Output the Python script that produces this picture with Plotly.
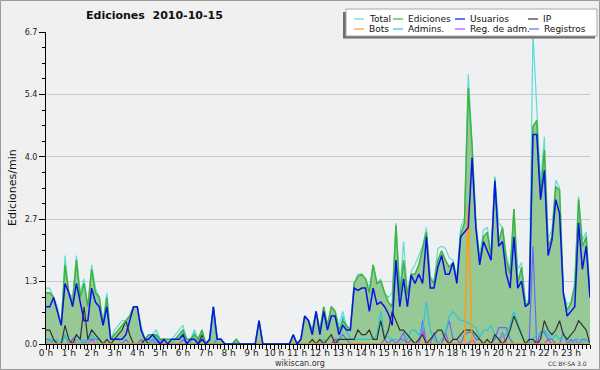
import plotly.graph_objects as go

# 10-minute bins, values in edits per minute (rows = hours 0..23, 6 bins each)
minutes = [i * 10 for i in range(144)]

total = [
    1.2, 1.2, 1.0, 0.8, 0.4, 1.9,
    1.1, 1.0, 1.9, 1.1, 1.4, 0.8,
    1.7, 1.2, 1.0, 0.5, 1.1, 0.1,
    0.3, 0.4, 0.5, 0.5, 0.6, 0.8,
    0.8, 0.4, 0.1, 0.2, 0.2, 0.3,
    0.1, 0.1, 0.1, 0.1, 0.2, 0.3,
    0.4, 0.1, 0.1, 0.3, 0.1, 0.3,
    0.0, 0.1, 0.8, 0.1, 0.1, 0.0,
    0.0, 0.0, 0.1, 0.0, 0.0, 0.0,
    0.0, 0.0, 0.5, 0.0, 0.0, 0.0,
    0.0, 0.0, 0.0, 0.0, 0.0, 0.2,
    0.0, 0.1, 0.6, 0.5, 0.3, 0.7,
    0.3, 0.8, 0.4, 0.8, 0.7, 0.4,
    0.7, 0.4, 0.3, 1.3, 1.5, 1.5,
    1.4, 1.2, 1.7, 1.3, 1.4, 1.1,
    1.0, 1.1, 2.6, 1.1, 2.2, 1.1,
    1.55, 1.7, 1.9, 2.1, 2.5, 1.45,
    1.35, 2.05, 2.1, 2.05, 1.85, 1.8,
    1.45, 2.5, 2.7, 5.8, 4.3, 2.6,
    1.9, 2.45, 2.5, 1.95, 3.6, 2.6,
    2.5, 1.9, 1.6, 2.9, 1.6, 1.75,
    0.95, 0.9, 6.7, 4.9, 3.45, 4.45,
    2.25, 2.45, 3.52, 3.35, 1.1, 0.85,
    0.9, 1.35, 3.16, 2.23, 2.41, 1.05,
]

ediciones = [
    1.1, 1.1, 1.0, 0.7, 0.4, 1.7,
    1.1, 0.9, 1.8, 1.0, 1.3, 0.8,
    1.6, 1.1, 1.0, 0.4, 1.0, 0.1,
    0.2, 0.3, 0.4, 0.5, 0.6, 0.8,
    0.8, 0.3, 0.1, 0.2, 0.2, 0.2,
    0.1, 0.1, 0.1, 0.1, 0.1, 0.2,
    0.3, 0.1, 0.1, 0.2, 0.1, 0.3,
    0.0, 0.1, 0.8, 0.1, 0.1, 0.0,
    0.0, 0.0, 0.1, 0.0, 0.0, 0.0,
    0.0, 0.0, 0.5, 0.0, 0.0, 0.0,
    0.0, 0.0, 0.0, 0.0, 0.0, 0.2,
    0.0, 0.1, 0.6, 0.5, 0.3, 0.7,
    0.3, 0.8, 0.4, 0.8, 0.7, 0.3,
    0.5, 0.4, 0.3, 1.3, 1.45, 1.5,
    1.4, 1.1, 1.7, 1.3, 1.35, 1.1,
    0.9, 0.8, 2.55, 1.05, 1.8, 1.05,
    1.5, 1.5, 1.7, 2.05, 2.4, 1.4,
    1.3, 1.8, 2.0, 1.8, 1.65, 1.75,
    1.35, 2.35, 2.6, 5.5, 4.25, 2.55,
    1.8, 2.3, 2.4, 1.85, 3.55, 2.2,
    2.5, 1.8, 1.5, 2.9, 1.3, 1.65,
    0.85, 0.9, 4.67, 4.8, 3.2, 4.17,
    2.1, 2.3, 3.38, 3.3, 1.09, 0.73,
    0.87, 1.23, 3.1, 2.1, 2.3, 1.0,
]

usuarios = [
    0.8, 0.8, 1.0, 0.7, 0.4, 1.3,
    1.1, 0.8, 1.3, 0.9, 0.5, 0.5,
    1.2, 0.9, 0.8, 0.4, 0.8, 0.1,
    0.1, 0.1, 0.1, 0.2, 0.5, 0.8,
    0.8, 0.3, 0.1, 0.1, 0.2, 0.1,
    0.0, 0.1, 0.0, 0.1, 0.1, 0.1,
    0.2, 0.0, 0.1, 0.1, 0.0, 0.1,
    0.0, 0.1, 0.8, 0.1, 0.1, 0.0,
    0.0, 0.0, 0.0, 0.0, 0.0, 0.0,
    0.0, 0.0, 0.5, 0.0, 0.0, 0.0,
    0.0, 0.0, 0.0, 0.0, 0.0, 0.2,
    0.0, 0.1, 0.6, 0.5, 0.2, 0.7,
    0.2, 0.7, 0.3, 0.6, 0.6, 0.2,
    0.4, 0.3, 0.3, 1.2, 1.15, 1.2,
    1.2, 0.7, 1.2, 0.85, 0.9, 0.8,
    0.65, 0.4, 1.8, 0.8, 1.4, 0.8,
    1.48, 1.3, 1.5, 1.3, 2.3, 1.2,
    1.2, 1.65, 1.9, 1.5, 1.5, 1.75,
    1.3, 2.3, 2.4, 2.5, 4.0, 2.5,
    1.7, 2.2, 2.0, 1.8, 3.5, 2.1,
    2.2, 1.5, 1.2, 2.3, 1.2, 1.35,
    0.8, 0.87, 4.5, 4.5, 3.1, 3.73,
    1.9, 2.23, 3.1, 2.8, 1.09, 0.6,
    0.7, 0.8, 2.6, 1.6, 2.1, 1.0,
]

ip = [
    0.3, 0.3, 0.1, 0.0, 0.0, 0.4,
    0.1, 0.0, 0.2, 0.1, 0.8, 0.1,
    0.3, 0.2, 0.1, 0.0, 0.1, 0.0,
    0.1, 0.2, 0.3, 0.5, 0.2, 0.0,
    0.0, 0.0, 0.1, 0.0, 0.0, 0.0,
    0.0, 0.0, 0.0, 0.0, 0.0, 0.0,
    0.0, 0.0, 0.0, 0.0, 0.0, 0.2,
    0.0, 0.0, 0.0, 0.0, 0.0, 0.0,
    0.0, 0.0, 0.1, 0.0, 0.0, 0.0,
    0.0, 0.0, 0.0, 0.0, 0.0, 0.0,
    0.0, 0.0, 0.0, 0.0, 0.0, 0.0,
    0.0, 0.0, 0.0, 0.0, 0.1, 0.0,
    0.1, 0.0, 0.1, 0.2, 0.0, 0.1,
    0.1, 0.1, 0.1, 0.1, 0.3, 0.2,
    0.2, 0.3, 0.1, 0.1, 0.5, 0.1,
    0.3, 0.7, 0.5, 0.3, 0.3, 0.2,
    0.1, 0.0, 0.1, 0.2, 0.0, 0.1,
    0.2, 0.3, 0.3, 0.1, 0.0, 0.1,
    0.1, 0.2, 0.3, 0.3, 0.3, 0.2,
    0.1, 0.0, 0.1, 0.0, 0.2, 0.1,
    0.0, 0.1, 0.3, 0.6, 0.4, 0.2,
    0.0, 0.1, 0.1, 0.0, 0.1, 0.5,
    0.3, 0.2, 0.3, 0.5, 0.2, 0.1,
    0.2, 0.3, 0.5, 0.4, 0.3, 0.0,
]

bots = [0.0] * 111 + [3.0] + [0.0] * 32

admins = [
    0.0, 0.1, 0.0, 0.1, 0.0, 0.2,
    0.0, 0.0, 0.1, 0.0, 0.1, 0.0,
    0.2, 0.1, 0.0, 0.0, 0.0, 0.0,
    0.1, 0.1, 0.0, 0.0, 0.0, 0.0,
    0.0, 0.0, 0.0, 0.1, 0.0, 0.2,
    0.0, 0.0, 0.0, 0.0, 0.1, 0.2,
    0.3, 0.0, 0.0, 0.3, 0.0, 0.1,
    0.0, 0.0, 0.7, 0.0, 0.0, 0.0,
    0.0, 0.0, 0.0, 0.0, 0.0, 0.0,
    0.0, 0.0, 0.0, 0.0, 0.0, 0.0,
    0.0, 0.0, 0.0, 0.0, 0.0, 0.0,
    0.0, 0.0, 0.0, 0.0, 0.0, 0.0,
    0.0, 0.1, 0.0, 0.0, 0.0, 0.0,
    0.6, 0.3, 0.1, 0.1, 0.1, 0.1,
    0.1, 0.1, 0.1, 0.2, 0.7, 0.15,
    0.15, 0.1, 0.1, 0.0, 0.1, 0.1,
    0.3, 0.3, 0.2, 0.3, 0.9, 0.3,
    0.1, 0.0, 0.1, 0.2, 0.6, 0.7,
    0.6, 0.5, 0.5, 0.45, 0.4, 0.35,
    0.15, 0.3, 0.3, 0.4, 0.2, 0.1,
    0.2, 0.2, 0.4, 0.7, 0.45, 0.2,
    0.0, 0.0, 0.1, 0.2, 0.2, 0.3,
    0.2, 0.1, 0.2, 0.1, 0.2, 0.1,
    0.0, 0.1, 0.1, 0.0, 0.1, 0.0,
]

reg_adm = [
    0.0, 0.0, 0.1, 0.0, 0.0, 0.0,
    0.0, 0.1, 0.0, 0.0, 0.0, 0.0,
    0.1, 0.0, 0.0, 0.0, 0.0, 0.0,
] + [0.0] * 58 + [
    0.1, 0.0,
    0.0, 0.0, 0.0, 0.0, 0.0, 0.0,
    0.0, 0.0, 0.0, 0.0, 0.0, 0.0,
    0.0, 0.0, 0.0, 0.1, 0.1, 0.0,
    0.0, 0.0, 0.0, 0.3, 0.0, 0.0,
    0.0, 0.0, 0.0, 0.25, 0.0, 0.0,
    0.0, 0.0, 0.0, 0.0, 0.1, 0.0,
    0.0, 0.0, 0.0, 0.0, 0.0, 0.0,
    0.25, 0.0, 0.0, 0.0, 0.0, 0.0,
    0.0, 0.0, 0.0, 0.1, 0.0, 0.0,
    0.1, 0.0, 0.0, 0.0, 0.0, 0.0,
    0.0, 0.1, 0.0, 0.0, 0.0, 0.0,
]

registros = [
    0.1, 0.1, 0.0, 0.0, 0.0, 0.2,
    0.0, 0.1, 0.2, 0.1, 0.0, 0.1,
    0.1, 0.1, 0.1, 0.0, 0.0, 0.0,
    0.0, 0.0, 0.0, 0.1, 0.0, 0.0,
    0.0, 0.1, 0.0, 0.0, 0.1, 0.0,
    0.1, 0.0, 0.0, 0.0, 0.0, 0.0,
    0.1, 0.0, 0.1, 0.1, 0.0, 0.1,
    0.0, 0.0, 0.0, 0.1, 0.1, 0.0,
    0.0, 0.0, 0.0, 0.0, 0.0, 0.0,
    0.0, 0.0, 0.0, 0.0, 0.0, 0.0,
    0.0, 0.0, 0.0, 0.0, 0.0, 0.0,
    0.0, 0.0, 0.0, 0.0, 0.0, 0.0,
    0.0, 0.0, 0.0, 0.0, 0.1, 0.1,
    0.2, 0.1, 0.0, 0.0, 0.0, 0.0,
    0.0, 0.0, 0.0, 0.0, 0.0, 0.1,
    0.0, 0.1, 0.0, 0.1, 0.25, 0.0,
    0.1, 0.0, 0.0, 0.5, 0.0, 0.0,
    0.25, 0.0, 0.0, 0.25, 0.5, 0.1,
    0.1, 0.0, 0.2, 0.25, 0.25, 0.1,
    0.1, 0.0, 0.0, 0.0, 0.1, 0.35,
    0.35, 0.35, 0.1, 0.0, 0.0, 0.0,
    0.0, 0.0, 2.1, 0.0, 0.25, 0.25,
    0.1, 0.1, 0.0, 0.0, 0.25, 0.0,
    0.1, 0.0, 0.0, 0.1, 0.1, 0.0,
]

hour_labels = [f"{h} h" for h in range(24)]
hour_vals = [h * 60 for h in range(24)]
y_tickvals = [0, 1.34, 2.68, 4.02, 5.36, 6.7]
y_ticktext = ["0.0", "1.3", "2.7", "4.0", "5.4", "6.7"]

C_TOTAL = "#5fdcd4"
C_ED = "#3fb23f"
C_FILL = "#96c996"
C_US = "#0a12e8"
C_IP = "#333333"
C_BOTS = "#ff9a1a"
C_ADM = "#26c6dc"
C_REGADM = "#c744f0"
C_REG = "#6a6af8"

FONT = "DejaVu Sans"

fig = go.Figure()
fig.add_trace(go.Scatter(x=minutes, y=ediciones, mode="lines", line=dict(width=0),
                         fill="tozeroy", fillcolor=C_FILL, hoverinfo="skip"))
fig.add_trace(go.Scatter(x=minutes, y=registros, mode="lines", line=dict(color=C_REG, width=1.2), name="Registros"))
fig.add_trace(go.Scatter(x=minutes, y=reg_adm, mode="lines", line=dict(color=C_REGADM, width=1.2), name="Reg. de adm."))
fig.add_trace(go.Scatter(x=minutes, y=admins, mode="lines", line=dict(color=C_ADM, width=1.2), name="Admins."))
fig.add_trace(go.Scatter(x=minutes, y=ip, mode="lines", line=dict(color=C_IP, width=1.2), name="IP"))
fig.add_trace(go.Scatter(x=minutes, y=bots, mode="lines", line=dict(color=C_BOTS, width=1.5), name="Bots"))
fig.add_trace(go.Scatter(x=minutes, y=total, mode="lines", line=dict(color=C_TOTAL, width=1.2), name="Total"))
fig.add_trace(go.Scatter(x=minutes, y=ediciones, mode="lines", line=dict(color=C_ED, width=1.5), name="Ediciones"))
fig.add_trace(go.Scatter(x=minutes, y=usuarios, mode="lines", line=dict(color=C_US, width=1.5), name="Usuarios"))

L, R, T, B = 46, 10, 32, 26
W, H = 600, 370
PW, PH = W - L - R, H - T - B


def xp(px):
    return (px - L) / PW


def yp(py):
    return (H - B - py) / PH


shapes = [
    # outer frame
    dict(type="rect", xref="paper", yref="paper", x0=xp(0.5), x1=xp(W - 0.5), y0=yp(H - 0.5), y1=yp(0.5),
         line=dict(color="#9a9a9a", width=1), fillcolor="rgba(0,0,0,0)", layer="below"),
    # legend shadow + box
    dict(type="rect", xref="paper", yref="paper", x0=xp(343), x1=xp(595), y0=yp(38.5), y1=yp(12),
         line=dict(width=0), fillcolor="#6e6e6e", layer="above"),
    dict(type="rect", xref="paper", yref="paper", x0=xp(346), x1=xp(597), y0=yp(36), y1=yp(9),
         line=dict(color="#a8a8a8", width=1), fillcolor="#ffffff", layer="above"),
]

annotations = [
    dict(text="<b>Ediciones\u00a0\u00a02010-10-15</b>", xref="paper", yref="paper", x=xp(154), y=yp(16),
         xanchor="center", yanchor="middle", showarrow=False, font=dict(family=FONT, size=11, color="#111")),
    dict(text="Ediciones/min", xref="paper", yref="paper", x=xp(12), y=yp(188), textangle=-90,
         xanchor="center", yanchor="middle", showarrow=False, font=dict(family=FONT, size=11, color="#111")),
    dict(text="wikiscan.org", xref="paper", yref="paper", x=xp(300), y=yp(363),
         xanchor="center", yanchor="middle", showarrow=False, font=dict(family=FONT, size=8, color="#333")),
    dict(text="CC BY-SA 3.0", xref="paper", yref="paper", x=xp(589), y=yp(363),
         xanchor="right", yanchor="middle", showarrow=False, font=dict(family=FONT, size=6, color="#333")),
]

legend_items = [
    ("Total", C_TOTAL, 354, 19), ("Ediciones", C_ED, 393, 19), ("Usuarios", C_US, 455, 19), ("IP", C_IP, 528, 19),
    ("Bots", C_BOTS, 354, 29), ("Admins.", C_ADM, 393, 29), ("Reg. de adm.", C_REGADM, 455, 29), ("Registros", C_REG, 529, 29),
]
for name, col, lx, ly in legend_items:
    shapes.append(dict(type="line", xref="paper", yref="paper", x0=xp(lx), x1=xp(lx + 10), y0=yp(ly), y1=yp(ly),
                       line=dict(color=col, width=1.2), layer="above"))
    annotations.append(dict(text=name, xref="paper", yref="paper", x=xp(lx + 13), y=yp(ly),
                            xanchor="left", yanchor="middle", showarrow=False,
                            font=dict(family=FONT, size=9, color="#111")))

fig.update_layout(
    width=W, height=H,
    autosize=False,
    margin=dict(l=L, r=R, t=T, b=B, pad=0, autoexpand=False),
    paper_bgcolor="#f0f0f0",
    plot_bgcolor="#eef0f2",
    showlegend=False,
    shapes=shapes,
    annotations=annotations,
    font=dict(family=FONT, size=9, color="#222"),
    xaxis=dict(
        range=[0, 1430], tickmode="array", tickvals=hour_vals, ticktext=hour_labels,
        ticks="outside", ticklen=5, tickwidth=1, tickcolor="#000", automargin=False,
        ticklabelstandoff=-5,
        showline=True, linecolor="#000", linewidth=1, showgrid=False, zeroline=False,
        tickfont=dict(family=FONT, size=9, color="#222"),
        minor=dict(tick0=0, dtick=10, ticks="outside", ticklen=4, tickwidth=1, tickcolor="#000", showgrid=False),
        fixedrange=True,
    ),
    yaxis=dict(
        range=[0, 6.7], tickmode="array", tickvals=y_tickvals, ticktext=y_ticktext,
        ticks="outside", ticklen=6, tickwidth=1, tickcolor="#000", automargin=False,
        showline=True, linecolor="#000", linewidth=1,
        showgrid=True, gridcolor="#c9c9c9", gridwidth=1, zeroline=False,
        tickfont=dict(family=FONT, size=8, color="#222"),
        minor=dict(tick0=0, dtick=0.335, ticks="outside", ticklen=3, tickwidth=1, tickcolor="#000", showgrid=False),
        fixedrange=True,
    ),
)

fig.write_html("out.html", config={"displayModeBar": False})

# remove default page margins so the 600x370 figure fills the window exactly
with open("out.html", encoding="utf-8") as f:
    html = f.read()
html = html.replace("<head>", "<head><style>html,body{margin:0;padding:0;overflow:hidden;}</style>", 1)
with open("out.html", "w", encoding="utf-8") as f:
    f.write(html)
